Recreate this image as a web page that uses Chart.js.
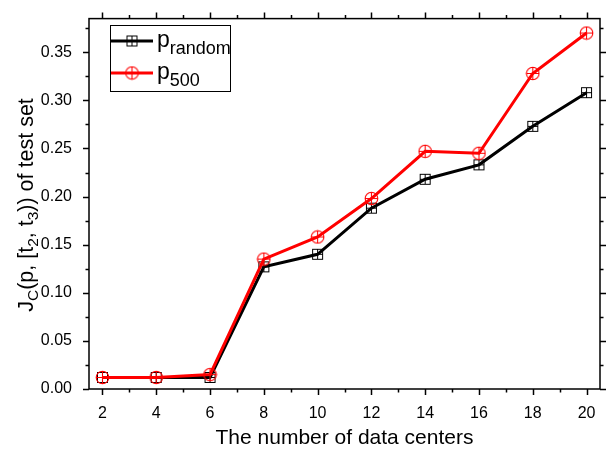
<!DOCTYPE html>
<html>
<head>
<meta charset="utf-8">
<script src="https://cdn.jsdelivr.net/npm/chart.js@4.4.1/dist/chart.umd.min.js"></script>
<style>
  html, body { margin: 0; padding: 0; background: #fff; }
  canvas { display: block; }
</style>
</head>
<body>
<canvas id="chart" width="608" height="451"></canvas>
<script>
/* J_C of test set vs. number of data centers: p_random vs p_500 */

const X_VALUES = [2, 4, 6, 8, 10, 12, 14, 16, 18, 20];
const P_RANDOM = [0.012, 0.012, 0.012, 0.127, 0.140, 0.188, 0.218, 0.233, 0.273, 0.308];
const P_500 = [0.012, 0.012, 0.015, 0.135, 0.158, 0.198, 0.247, 0.245, 0.328, 0.370];

const X_TICKS = [2, 4, 6, 8, 10, 12, 14, 16, 18, 20];
const X_MINOR = [3, 5, 7, 9, 11, 13, 15, 17, 19];
const Y_TICKS = [0, 0.05, 0.1, 0.15, 0.2, 0.25, 0.3, 0.35];
const Y_MINOR = [0.025, 0.075, 0.125, 0.175, 0.225, 0.275, 0.325, 0.375];

const SERIES_NAMES = [
  [{ t: "p" }, { t: "random", sub: true }],
  [{ t: "p" }, { t: "500", sub: true }],
];
const Y_TITLE = [
  { t: "J" }, { t: "C", sub: true }, { t: "(p, [t" }, { t: "2", sub: true },
  { t: ", t" }, { t: "3", sub: true }, { t: ")) of test set" },
];
const X_TITLE = "The number of data centers";

const FONT = "'Liberation Sans', Arial, sans-serif";

// 中空マーカー(四角+十字、円+十字)
function squareMarker(color) {
  const c = document.createElement("canvas");
  c.width = c.height = 13;
  const g = c.getContext("2d");
  g.strokeStyle = color;
  g.lineWidth = 1;
  g.strokeRect(1.5, 1.5, 10, 10);
  g.beginPath();
  g.moveTo(6.5, 1.5); g.lineTo(6.5, 11.5);
  g.moveTo(1.5, 6.5); g.lineTo(11.5, 6.5);
  g.stroke();
  return c;
}
function circleMarker(color) {
  const c = document.createElement("canvas");
  c.width = c.height = 15;
  const g = c.getContext("2d");
  g.strokeStyle = color;
  g.lineWidth = 1.1;
  g.beginPath();
  g.arc(7.5, 7.5, 6.3, 0, Math.PI * 2);
  g.moveTo(7.5, 1.2); g.lineTo(7.5, 13.8);
  g.moveTo(1.2, 7.5); g.lineTo(13.8, 7.5);
  g.stroke();
  return c;
}
const MK_RANDOM = squareMarker("#000");
const MK_500 = circleMarker("#ff0000");

// 下付き文字つきテキスト
function richWidth(ctx, parts, size, subSize) {
  return parts.reduce((w, p) => {
    ctx.font = `${p.sub ? subSize : size}px ${FONT}`;
    return w + ctx.measureText(p.t).width;
  }, 0);
}
function drawRich(ctx, parts, x, y, size, subSize, subDrop) {
  ctx.textBaseline = "alphabetic";
  ctx.textAlign = "left";
  parts.forEach((p) => {
    ctx.font = `${p.sub ? subSize : size}px ${FONT}`;
    ctx.fillText(p.t, x, p.sub ? y + subDrop : y);
    x += ctx.measureText(p.t).width;
  });
}

const framePlugin = {
  id: "frame",
  afterDraw(chart) {
    const ctx = chart.ctx;
    const a = chart.chartArea;
    const xs = chart.scales.x;
    const ys = chart.scales.y;
    ctx.save();
    ctx.strokeStyle = "#000";
    ctx.lineWidth = 1.5;
    ctx.strokeRect(a.left, a.top, a.right - a.left, a.bottom - a.top);
    ctx.beginPath();
    const tickX = (v, len) => {
      const px = Math.round(xs.getPixelForValue(v)) + 0.5;
      ctx.moveTo(px, a.bottom); ctx.lineTo(px, a.bottom + len);
      ctx.moveTo(px, a.top); ctx.lineTo(px, a.top - len);
    };
    const tickY = (v, len) => {
      const py = Math.round(ys.getPixelForValue(v)) + 0.5;
      ctx.moveTo(a.left, py); ctx.lineTo(a.left - len, py);
      ctx.moveTo(a.right, py); ctx.lineTo(a.right + len, py);
    };
    X_TICKS.forEach((v) => tickX(v, 6));
    X_MINOR.forEach((v) => tickX(v, 3.5));
    Y_TICKS.forEach((v) => tickY(v, 6));
    Y_MINOR.forEach((v) => tickY(v, 3.5));
    ctx.stroke();

    // 軸タイトル
    ctx.fillStyle = "#000";
    ctx.font = `21px ${FONT}`;
    ctx.textAlign = "center";
    ctx.textBaseline = "alphabetic";
    ctx.fillText(X_TITLE, (a.left + a.right) / 2, 444);

    const w = richWidth(ctx, Y_TITLE, 21.5, 15.5);
    ctx.translate(33, 205);
    ctx.rotate(-Math.PI / 2);
    drawRich(ctx, Y_TITLE, -w / 2, 0, 21.5, 15.5, 5);
    ctx.restore();

    // 凡例
    ctx.save();
    ctx.strokeStyle = "#000";
    ctx.lineWidth = 1;
    ctx.strokeRect(110.5, 25.5, 120, 66);
    const rows = [
      { y: 41, color: "#000", mk: MK_RANDOM, name: SERIES_NAMES[0] },
      { y: 73, color: "#ff0000", mk: MK_500, name: SERIES_NAMES[1] },
    ];
    rows.forEach((r) => {
      ctx.strokeStyle = r.color;
      ctx.lineWidth = 3;
      ctx.beginPath();
      ctx.moveTo(111, r.y); ctx.lineTo(153, r.y);
      ctx.stroke();
      ctx.drawImage(r.mk, 132 - r.mk.width / 2, r.y - r.mk.height / 2);
      ctx.fillStyle = "#000";
      drawRich(ctx, r.name, 157, r.y + 6, 23, 18, 7);
    });
    ctx.restore();
  },
};

const toPoints = (ys) => X_VALUES.map((x, i) => ({ x, y: ys[i] }));

new Chart(document.getElementById("chart"), {
  type: "line",
  data: {
    datasets: [
      {
        data: toPoints(P_500),
        borderColor: "#ff0000",
        borderWidth: 3,
        pointStyle: MK_500,
        order: 0,
      },
      {
        data: toPoints(P_RANDOM),
        borderColor: "#000",
        borderWidth: 3,
        pointStyle: MK_RANDOM,
        order: 1,
      },
    ],
  },
  options: {
    responsive: false,
    animation: false,
    layout: { padding: { top: 10, right: 8, left: 0, bottom: 0 } },
    elements: { line: { tension: 0 } },
    plugins: { legend: { display: false }, tooltip: { enabled: false } },
    scales: {
      x: {
        type: "linear",
        min: 1.5,
        max: 20.5,
        grid: { display: false },
        border: { display: false },
        afterBuildTicks: (s) => { s.ticks = X_TICKS.map((v) => ({ value: v })); },
        afterFit: (s) => { s.height = 62; },
        ticks: {
          color: "#000",
          padding: 7,
          maxRotation: 0,
          autoSkip: false,
          font: { family: FONT, size: 16 },
          callback: (v) => String(v),
        },
      },
      y: {
        min: 0,
        max: 0.385,
        grid: { display: false },
        border: { display: false },
        afterBuildTicks: (s) => { s.ticks = Y_TICKS.map((v) => ({ value: v })); },
        afterFit: (s) => { s.width = 89; },
        ticks: {
          color: "#000",
          padding: 9,
          autoSkip: false,
          font: { family: FONT, size: 16 },
          callback: (v) => v.toFixed(2),
        },
      },
    },
  },
  plugins: [framePlugin],
});
</script>
</body>
</html>
